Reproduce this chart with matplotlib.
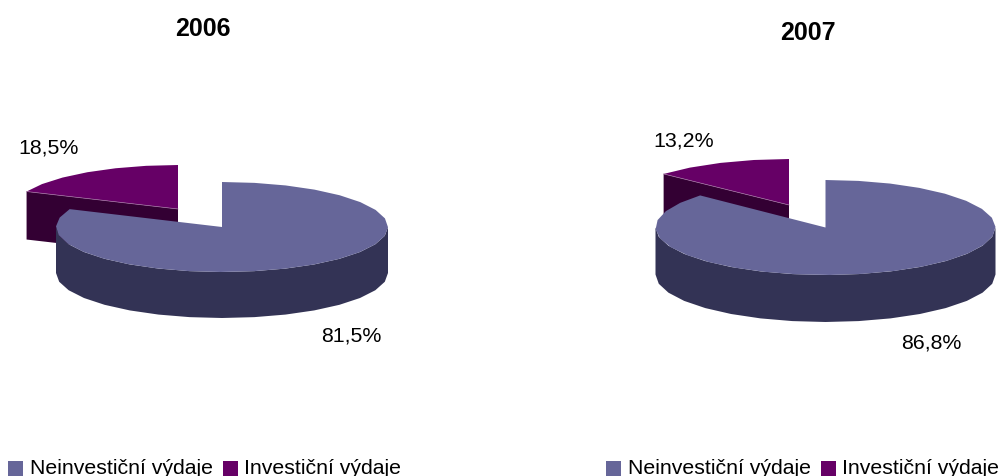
import numpy as np
import matplotlib
matplotlib.use("Agg")
import matplotlib.pyplot as plt
from matplotlib.patches import Rectangle

plt.rcParams['font.family'] = ['Liberation Sans', 'DejaVu Sans']

categories = ["Neinvestiční výdaje", "Investiční výdaje"]
years = ["2006", "2007"]
values_2006 = [81.5, 18.5]
values_2007 = [86.8, 13.2]

TOP_COLORS = ["#666699", "#660066"]
SIDE_COLORS = ["#333355", "#330033"]

fig = plt.figure(figsize=(10, 4.77), dpi=100)
ax = fig.add_axes([0, 0, 1, 1])
ax.set_xlim(0, 1000)
ax.set_ylim(477, 0)
ax.axis("off")


def rim(cx, cy, rx, ry, a0, a1, step=11):
    # angles in degrees, clockwise from the top of the pie
    n = max(int(abs(a1 - a0) / step), 1) + 1
    t = np.radians(np.linspace(a0, a1, n))
    return cx + rx * np.sin(t), cy - ry * np.cos(t)


def draw_big(cx, cy, rx, ry, depth, pct):
    end = pct * 3.6
    # outer wall, only the front half shows
    x, y = rim(cx, cy, rx, ry, 90, min(end, 270))
    ax.fill(np.r_[x, x[::-1]], np.r_[y, y[::-1] + depth], color=SIDE_COLORS[0], lw=0, zorder=3)
    x, y = rim(cx, cy, rx, ry, 0, end)
    ax.fill(np.r_[cx, x], np.r_[cy, y], color=TOP_COLORS[0], lw=0, zorder=4)


def draw_small(cx, cy, rx, ry, depth, pct):
    start = 360 - pct * 3.6
    x, y = rim(cx, cy, rx, ry, start, 360)
    # cut face towards the viewer
    ax.fill([cx, x[0], x[0], cx], [cy, y[0], y[0] + depth, cy + depth],
            color=SIDE_COLORS[1], lw=0, zorder=1)
    ax.fill(np.r_[cx, x], np.r_[cy, y], color=TOP_COLORS[1], lw=0, zorder=2)
    ax.plot([cx, x[0]], [cy, y[0]], color="#a070a0", lw=0.5, zorder=2)


def legend(x_box1, x_text1, x_box2, x_text2):
    for i, (bx, tx) in enumerate([(x_box1, x_text1), (x_box2, x_text2)]):
        ax.add_patch(Rectangle((bx, 462), 15, 15, color=TOP_COLORS[i], lw=0))
        ax.text(tx, 474, categories[i], fontsize=15.35, ha="left", va="baseline", color="black")


# 2006
draw_small(178, 210, 165, 44, 48, values_2006[1])
draw_big(222, 228, 166, 45, 46, values_2006[0])
ax.text(202.5, 36, years[0], fontsize=18, fontweight="bold", ha="center", va="baseline")
ax.text(49, 154, f"{values_2006[1]:.1f}%".replace(".", ","), fontsize=15.4, ha="center", va="baseline")
ax.text(351, 342, f"{values_2006[0]:.1f}%".replace(".", ","), fontsize=15.4, ha="center", va="baseline")
legend(8, 30, 223, 244)

# 2007
draw_small(789, 206, 170, 46, 47, values_2007[1])
draw_big(825.5, 228.5, 170, 47.5, 47, values_2007[0])
ax.text(808, 40, years[1], fontsize=18, fontweight="bold", ha="center", va="baseline")
ax.text(684, 147, f"{values_2007[1]:.1f}%".replace(".", ","), fontsize=15.4, ha="center", va="baseline")
ax.text(931, 349, f"{values_2007[0]:.1f}%".replace(".", ","), fontsize=15.4, ha="center", va="baseline")
legend(606, 628, 821, 842)

fig.savefig("out.png", dpi=100)
